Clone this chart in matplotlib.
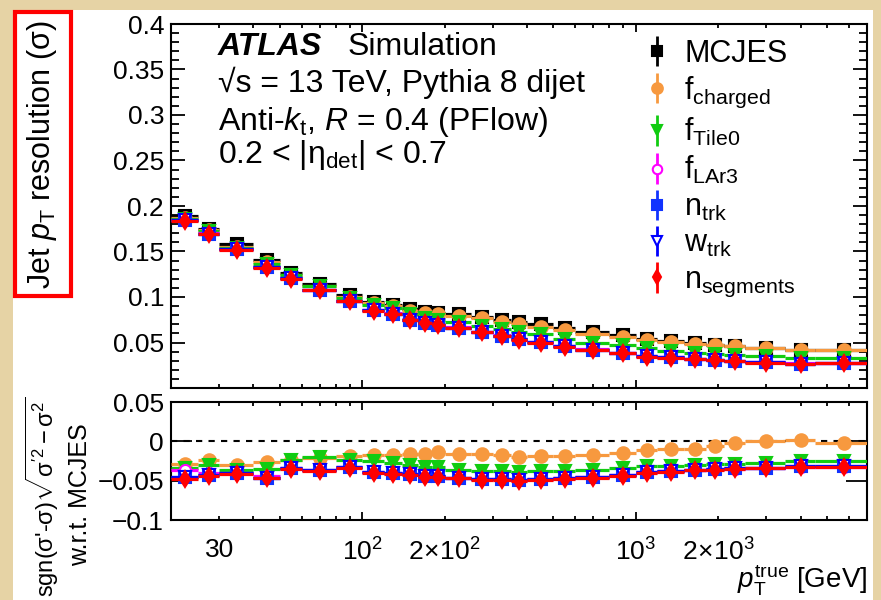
import numpy as np
import matplotlib
matplotlib.use('Agg')
import matplotlib.pyplot as plt
from matplotlib.patches import Rectangle
from matplotlib.ticker import LogLocator, MultipleLocator, FuncFormatter, NullFormatter

plt.rcParams['font.family'] = ['Liberation Sans', 'DejaVu Sans']
plt.rcParams['mathtext.fontset'] = 'custom'
plt.rcParams['mathtext.rm'] = 'Liberation Sans'
plt.rcParams['mathtext.it'] = 'Liberation Sans:italic'
plt.rcParams['mathtext.bf'] = 'Liberation Sans:bold'

# ---------------- data ----------------
bin_edges = [20, 25, 30, 40, 50, 60, 80, 100, 120, 140, 160, 180, 200, 250, 300,
             350, 400, 500, 600, 800, 1000, 1200, 1500, 1800, 2100, 2500, 3500,
             4500, 7000]

# resolution (top panel)
res_mcjes = [0.189, 0.175, 0.158, 0.141, 0.126, 0.114, 0.102, 0.0945, 0.0915, 0.0865,
             0.084, 0.0825, 0.081, 0.0785, 0.075, 0.073, 0.070, 0.066, 0.062, 0.058,
             0.054, 0.0515, 0.0495, 0.0475, 0.046, 0.0443, 0.0418, 0.0420]
res_fcharged = [0.187, 0.1735, 0.155, 0.1385, 0.124, 0.112, 0.100, 0.093, 0.090, 0.085,
                0.0825, 0.081, 0.0795, 0.077, 0.073, 0.0705, 0.0675, 0.0635, 0.0595, 0.056,
                0.0525, 0.0505, 0.0485, 0.047, 0.0459, 0.0443, 0.0414, 0.0418]
res_ftile0 = [0.186, 0.172, 0.154, 0.136, 0.124, 0.112, 0.099, 0.091, 0.0875, 0.081,
              0.077, 0.075, 0.072, 0.068, 0.065, 0.061, 0.059, 0.054, 0.050, 0.047,
              0.044, 0.041, 0.039, 0.0375, 0.036, 0.035, 0.033, 0.033]
res_flar3 = [0.185, 0.170, 0.153, 0.133, 0.121, 0.108, 0.096, 0.086, 0.082, 0.0755,
             0.072, 0.070, 0.067, 0.062, 0.058, 0.054, 0.051, 0.046, 0.0425, 0.0385,
             0.035, 0.034, 0.032, 0.031, 0.030, 0.0285, 0.027, 0.0275]
res_ntrk = [0.1845, 0.1695, 0.1525, 0.1325, 0.1205, 0.108, 0.096, 0.0855, 0.0815, 0.075,
            0.0715, 0.0695, 0.066, 0.0615, 0.0575, 0.0535, 0.0505, 0.046, 0.0423, 0.0383,
            0.0348, 0.0338, 0.0318, 0.0308, 0.0298, 0.0283, 0.0268, 0.0273]
res_wtrk = [0.1845, 0.1695, 0.1525, 0.1325, 0.1205, 0.108, 0.096, 0.0855, 0.0815, 0.075,
            0.0715, 0.0695, 0.066, 0.0615, 0.0575, 0.0535, 0.0505, 0.046, 0.0423, 0.0383,
            0.0348, 0.0338, 0.0318, 0.0308, 0.0298, 0.0283, 0.0268, 0.0273]
res_nseg = [0.184, 0.169, 0.152, 0.132, 0.120, 0.1075, 0.0955, 0.085, 0.081, 0.0745,
            0.071, 0.069, 0.0655, 0.061, 0.057, 0.053, 0.050, 0.0455, 0.042, 0.038,
            0.0345, 0.0335, 0.0315, 0.0305, 0.0295, 0.028, 0.0265, 0.027]

# sgn(s'-s) sqrt(|s'^2 - s^2|) w.r.t. MCJES (bottom panel)
diff_fcharged = [-0.0285, -0.0234, -0.0297, -0.0264, -0.0234, -0.0213, -0.0192, -0.0171,
                 -0.0171, -0.0162, -0.0162, -0.0141, -0.0162, -0.0162, -0.0171, -0.0205,
                 -0.0192, -0.0192, -0.018, -0.015, -0.0116, -0.0099, -0.0095, -0.0057,
                 -0.0023, 0.001, 0.0019, -0.0015]
diff_ftile0 = [-0.034, -0.030, -0.037, -0.035, -0.0234, -0.020, -0.0234, -0.0255, -0.0276,
               -0.0297, -0.0331, -0.0331, -0.036, -0.0382, -0.0374, -0.039, -0.0374,
               -0.0374, -0.037, -0.034, -0.0319, -0.031, -0.030, -0.029, -0.029, -0.0276,
               -0.0247, -0.0255]
diff_flar3 = [-0.037, -0.040, -0.040, -0.044, -0.034, -0.036, -0.033, -0.039, -0.040,
              -0.042, -0.044, -0.044, -0.046, -0.048, -0.048, -0.049, -0.048, -0.047,
              -0.045, -0.043, -0.039, -0.038, -0.036, -0.035, -0.035, -0.034, -0.032,
              -0.032]
diff_ntrk = [-0.045, -0.043, -0.040, -0.046, -0.034, -0.037, -0.033, -0.039, -0.040,
             -0.042, -0.044, -0.044, -0.046, -0.048, -0.048, -0.049, -0.048, -0.047,
             -0.045, -0.043, -0.039, -0.038, -0.036, -0.035, -0.0345, -0.0335, -0.0315,
             -0.0315]
diff_wtrk = [-0.045, -0.043, -0.040, -0.046, -0.034, -0.037, -0.033, -0.039, -0.040,
             -0.042, -0.044, -0.044, -0.046, -0.048, -0.048, -0.049, -0.048, -0.047,
             -0.045, -0.043, -0.039, -0.038, -0.036, -0.035, -0.0345, -0.0335, -0.0315,
             -0.0315]
diff_nseg = [-0.048, -0.044, -0.041, -0.047, -0.035, -0.038, -0.034, -0.040, -0.041,
             -0.043, -0.045, -0.045, -0.047, -0.049, -0.049, -0.050, -0.049, -0.048,
             -0.046, -0.044, -0.040, -0.039, -0.037, -0.036, -0.035, -0.034, -0.032,
             -0.032]

labels = ['MCJES', r'f$_{\rm charged}$', r'f$_{\rm Tile0}$', r'f$_{\rm LAr3}$',
          r'n$_{\rm trk}$', r'w$_{\rm trk}$', r'n$_{\rm segments}$']

# ---------------- style per series ----------------
series = [
    # label, res, diff, marker, color, facecolor, size
    (labels[0], res_mcjes, None, 's', 'black', 'black', 8),
    (labels[1], res_fcharged, diff_fcharged, 'o', '#F7993F', '#F7993F', 9),
    (labels[2], res_ftile0, diff_ftile0, 'v', '#11CC11', '#11CC11', 9),
    (labels[3], res_flar3, diff_flar3, 'o', '#FF00FF', 'white', 8),
    (labels[4], res_ntrk, diff_ntrk, 's', '#1133FF', '#1133FF', 8),
    (labels[5], res_wtrk, diff_wtrk, 'v', '#0000FF', 'white', 8),
    (labels[6], res_nseg, diff_nseg, 'd', '#FF0000', '#FF0000', 8),
]

edges = np.array(bin_edges, dtype=float)
lo, hi = edges[:-1], edges[1:]
pt = 0.5 * (lo + hi)
xerr = [pt - lo, hi - pt]

# ---------------- figure ----------------
W, H = 881, 600
fig = plt.figure(figsize=(W / 100, H / 100), dpi=100)
fig.patch.set_facecolor('#E6D3A5')
fig.patches.append(Rectangle((13 / W, 0), 860 / W, 1 - 10 / H, transform=fig.transFigure,
                             facecolor='white', edgecolor='none', zorder=-10))

ax1 = fig.add_axes([171 / W, 1 - 388 / H, 696 / W, 364 / H])
ax2 = fig.add_axes([171 / W, 1 - 520 / H, 696 / W, 118 / H])

handles = []
for i, (lab, res, diff, mk, col, fc, ms) in enumerate(series):
    ax1.errorbar(pt, res, xerr=xerr, fmt=mk, color=col, mfc=fc, mec=col, ms=ms,
                 mew=1.5, elinewidth=2.3, capsize=0, zorder=3 + i)
    if diff is not None:
        ax2.errorbar(pt, diff, xerr=xerr, fmt=mk, color=col, mfc=fc, mec=col, ms=ms,
                     mew=1.5, elinewidth=2.3, capsize=0, zorder=3 + i)
    h = ax1.errorbar([np.nan], [np.nan], yerr=[1], fmt=mk, color=col, mfc=fc, mec=col,
                     ms=ms * 0.85, mew=1.5, elinewidth=2, capsize=0)
    handles.append(h)

ax2.axhline(0, color='black', ls=(0, (3, 3)), lw=1.5, zorder=2)

for ax in (ax1, ax2):
    ax.set_xscale('log')
    ax.set_xlim(20, 7000)
    ax.xaxis.set_major_locator(LogLocator(base=10, numticks=10))
    ax.xaxis.set_minor_locator(LogLocator(base=10, subs=np.arange(2, 10), numticks=20))
    ax.tick_params(which='both', direction='in', top=True, right=True, width=1.3)
    ax.tick_params(axis='both', which='major', labelsize=19, pad=5)
    for sp in ax.spines.values():
        sp.set_linewidth(1.5)

ax1.set_ylim(0, 0.4)
ax1.yaxis.set_major_locator(MultipleLocator(0.05))
ax1.yaxis.set_minor_locator(MultipleLocator(0.01))
ax1.yaxis.set_major_formatter(FuncFormatter(lambda v, p: '' if abs(v) < 1e-9 else f'{v:g}'))
ax1.xaxis.set_major_formatter(NullFormatter())
ax1.xaxis.set_minor_formatter(NullFormatter())
ax1.tick_params(axis='y', which='major', length=10)
ax1.tick_params(axis='y', which='minor', length=5.5)
ax1.tick_params(axis='x', which='major', length=6)
ax1.tick_params(axis='x', which='minor', length=3)

ax2.set_ylim(-0.1, 0.05)
ax2.yaxis.set_major_locator(MultipleLocator(0.05))
ax2.yaxis.set_major_formatter(FuncFormatter(lambda v, p: '0' if abs(v) < 1e-9 else f'{v:g}'.replace('-', '\u2212')))
ax2.tick_params(axis='y', which='major', length=15)
ax2.tick_params(axis='x', which='major', length=6, pad=13)
ax2.tick_params(axis='x', which='minor', length=3, pad=13, labelsize=19)


def major_lab(v, p):
    e = int(round(np.log10(v)))
    return r'$10^{%d}$' % e


def minor_lab(v, p):
    if abs(v - 30) < 1e-6:
        return '30'
    if abs(v - 200) < 1e-6:
        return r'$2\!\times\!10^{2}$'
    if abs(v - 2000) < 1e-6:
        return r'$2\!\times\!10^{3}$'
    return ''


ax2.xaxis.set_major_formatter(FuncFormatter(major_lab))
ax2.xaxis.set_minor_formatter(FuncFormatter(minor_lab))

# legend
ax1.legend(handles, labels, loc='upper left', bbox_to_anchor=(0.652, 1.01), frameon=False,
           fontsize=22, handlelength=0.9, handletextpad=0.45, labelspacing=0.2,
           borderaxespad=0.2)

# labels in the plot
fs = 23
ax1.text(0.0675, 0.915, 'ATLAS', transform=ax1.transAxes, fontsize=fs, fontweight='bold',
         fontstyle='italic', va='baseline')
ax1.text(0.254, 0.915, 'Simulation', transform=ax1.transAxes, fontsize=fs, va='baseline')
ax1.text(0.0675, 0.814, '\u221as = 13 TeV, Pythia 8 dijet', transform=ax1.transAxes,
         fontsize=fs, va='baseline')
ax1.text(0.0675, 0.709, r'Anti-$k_{\rm t}$, $R$ = 0.4 (PFlow)', transform=ax1.transAxes,
         fontsize=fs, va='baseline')
ax1.text(0.0675, 0.618, r'0.2 < |η$_{\rm det}$| < 0.7', transform=ax1.transAxes,
         fontsize=fs, va='baseline')

# axis titles
fig.text(42 / W, 1 - 155 / H, r'Jet $p_{\rm T}$ resolution (σ)', rotation=90,
         ha='center', va='center', fontsize=22)
fig.patches.append(Rectangle((14.7 / W, 1 - 296 / H), 56 / W, 284 / H,
                             transform=fig.transFigure, fill=False, edgecolor='#FF0000',
                             lw=3, zorder=10))
fig.text(42 / W, 1 - 497 / H, r"sgn(σ'-σ)$\sqrt{\mathrm{\sigma'^{2}-\sigma^{2}}}$",
         rotation=90, ha='center', va='center', fontsize=17)
fig.text(80 / W, 1 - 495 / H, 'w.r.t. MCJES', rotation=90, ha='center', va='center',
         fontsize=18)
fig.text(867 / W, 1 - 589 / H, r'$p_{\rm T}^{\rm true}$ [GeV]', ha='right',
         va='baseline', fontsize=20)

fig.savefig('out.png', dpi=100, facecolor=fig.get_facecolor())
